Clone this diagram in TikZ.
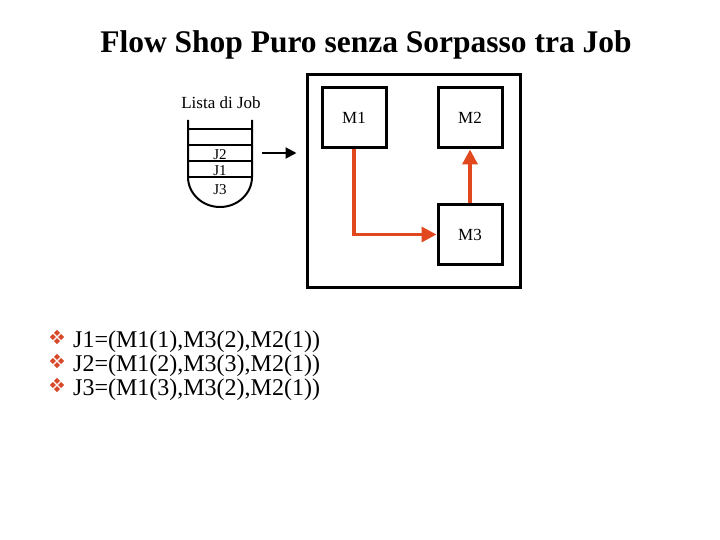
\documentclass[tikz,border=0pt]{standalone}
\usepackage{fontspec}
\setmainfont{Liberation Serif}
\usepackage{tikz}
\usetikzlibrary{arrows.meta,positioning,calc}
\definecolor{Ink}{HTML}{000000}
\definecolor{FlowRed}{HTML}{E2481E}
\definecolor{MarkRed}{HTML}{D9482A}
\tikzset{
  machine/.style={draw=Ink,line width=3pt,minimum width=64pt,minimum height=60pt,
              inner sep=0pt,font=\fontsize{17}{20}\selectfont},
  shopbox/.style={draw=Ink,line width=3pt,minimum width=213pt,minimum height=212pt,inner sep=0pt},
  redflow/.style={-{Triangle[length=15pt,width=15pt]},line width=3.5pt,draw=FlowRed},
  inflow/.style={-{Triangle[length=11pt,width=11pt]},line width=2pt,draw=Ink},
  queueline/.style={line width=2pt,draw=Ink},
  joblabel/.style={font=\fontsize{15}{16}\selectfont,inner sep=0pt},
  seqtext/.style={anchor=base west,font=\fontsize{24}{28}\selectfont,inner sep=0pt},
  jobmark/.pic={\foreach \dx/\dy in {-4.2/0,4.2/0,0/-4.2,0/4.2}
    \fill[MarkRed] (\dx-3,\dy) -- (\dx,\dy-3) -- (\dx+3,\dy) -- (\dx,\dy+3) -- cycle;}
}
\begin{document}
\begin{tikzpicture}[x=1pt,y=-1pt]
  \useasboundingbox[fill=white] (0,0) rectangle (720,540);
  \node[anchor=base,font=\bfseries\fontsize{31.5}{36}\selectfont] (title) at (366,53) {Flow Shop Puro senza Sorpasso tra Job};
  \node[font=\fontsize{17}{20}\selectfont] (listlabel) at (221,103) {Lista di Job};
  \draw[queueline] (188,120) -- (188,177) arc[start angle=180,end angle=0,x radius=32,y radius=30] -- (252,120);
  \foreach \yy in {129,145,161,177} \draw[queueline] (188,\yy) -- (252,\yy);
  \node[joblabel] (jobA) at (220,155) {J2};
  \node[joblabel] (jobB) at (220,171) {J1};
  \node[joblabel] (jobC) at (220,190) {J3};
  \node[shopbox] (shop) at (413.5,181) {};
  \node[machine] (M1) at (354,118) {M1};
  \node[machine] (M2) at (470,118) {M2};
  \node[machine] (M3) at (470,234.5) {M3};
  \coordinate (queueout) at (262,153);
  \draw[inflow] (queueout) -- ($(queueout -| shop.west)+(-9,0)$);
  \draw[redflow] (M1.south) |- (M3.west);
  \draw[redflow] (M3.north) -- (M2.south);
  \foreach \txt [count=\i] in {{J1=(M1(1),M3(2),M2(1))},{J2=(M1(2),M3(3),M2(1))},{J3=(M1(3),M3(2),M2(1))}} {
    \pic at (57,313+24*\i) {jobmark};
    \node[seqtext] (seq\i) at (73,323+24*\i) {\txt};
  }
\end{tikzpicture}
\end{document}
